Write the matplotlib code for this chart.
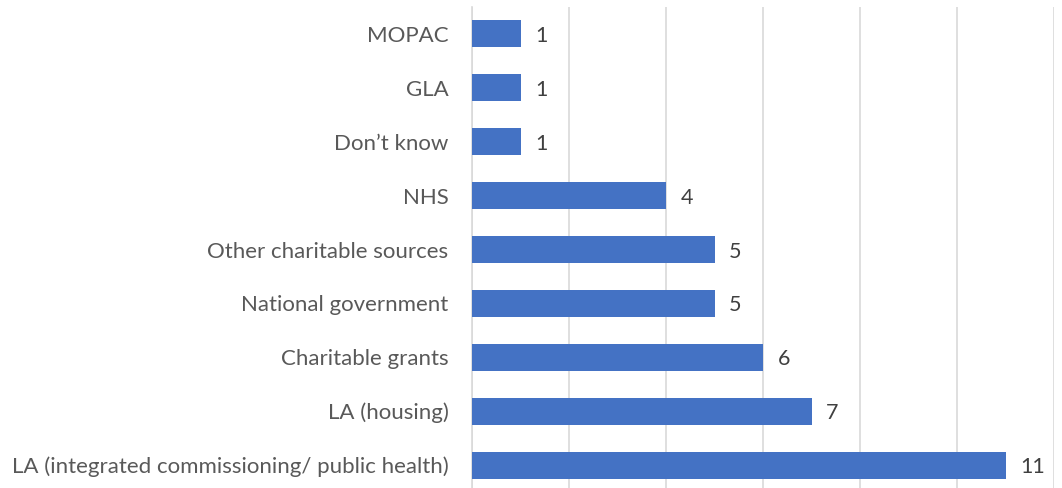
import matplotlib
matplotlib.use("Agg")
import matplotlib.pyplot as plt

# categories top -> bottom as in the chart
categories = ["MOPAC", "GLA", "Don\u2019t know", "NHS", "Other charitable sources",
              "National government", "Charitable grants", "LA (housing)",
              "LA (integrated commissioning/ public health)"]
values = [1, 1, 1, 4, 5, 5, 6, 7, 11]

plt.rcParams["font.family"] = ["Lato", "DejaVu Sans"]

fig = plt.figure(figsize=(10.62, 4.88), dpi=100)
ax = fig.add_axes([472 / 1062, -4 / 488, 582 / 1062, 488 / 488 - 7 / 488 + 4 / 488])

ypos = list(range(len(categories)))
ax.barh(ypos, values, height=0.5, color="#4472C4", zorder=3)
for y, v in zip(ypos, values):
    ax.text(v + 0.3, y, str(v), va="center_baseline", ha="left", fontsize=15.5, color="#404040")

ax.set_yticks(ypos)
ax.set_yticklabels(categories, fontsize=16, color="#595959")
ax.set_ylim(len(categories) - 0.5, -0.5)
ax.set_xlim(0, 12)
ax.set_xticks([0, 2, 4, 6, 8, 10, 12])
ax.set_xticklabels([])
ax.tick_params(axis="both", length=0)
ax.tick_params(axis="y", pad=17)
ax.grid(axis="x", color="#D9D9D9", linewidth=1.2, zorder=0)
for s in ["top", "right", "bottom"]:
    ax.spines[s].set_visible(False)
ax.spines["left"].set_color("#D9D9D9")
ax.spines["left"].set_linewidth(1.2)

fig.savefig("out.png", dpi=100)
